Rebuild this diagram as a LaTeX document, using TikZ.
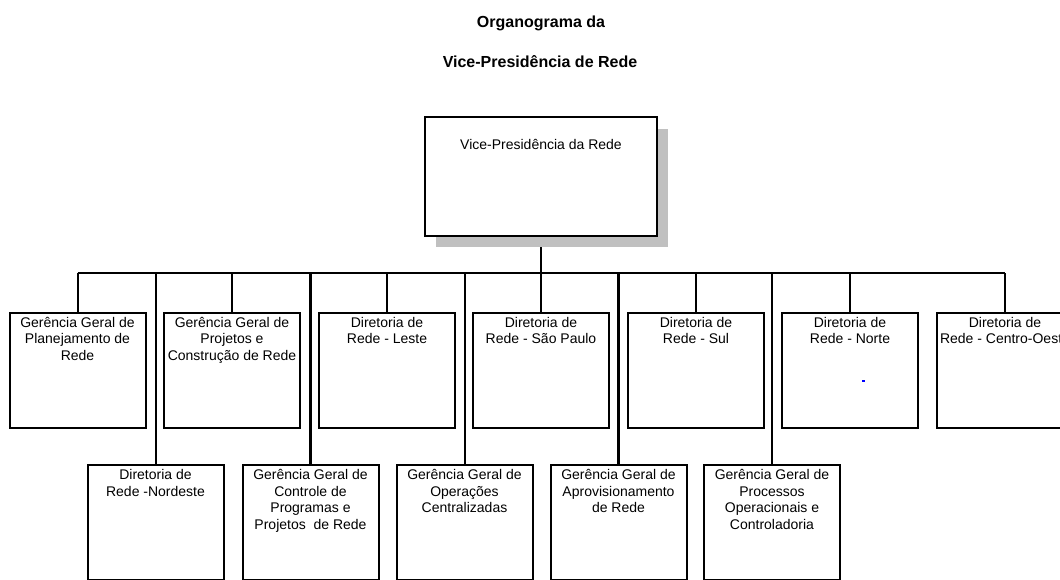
\documentclass[tikz,border=0pt]{standalone}
\usepackage{fontspec}
\setmainfont{Liberation Sans}
\definecolor{shadowgray}{RGB}{192,192,192}
\pgfdeclarelayer{bg}
\pgfsetlayers{bg,main}
\newcommand\topline{\rule{0pt}{14.5pt}}
\begin{document}
\begin{tikzpicture}[x=1pt,y=-1pt,
  box/.style={draw=black,line width=2pt,fill=white,minimum width=136pt,
    minimum height=115pt,inner sep=0pt,outer sep=0pt},
  lbl/.style={anchor=north,inner sep=0pt,align=center,
    font=\fontsize{14}{16.6}\selectfont},
  heading/.style={anchor=base,inner sep=0pt,font=\bfseries\fontsize{16}{19}\selectfont},
  wire/.style={line width=2pt},
  heavy/.style={line width=2.6pt}]
\useasboundingbox (0,0) rectangle (1060,579);
\clip (0,0) rectangle (1060,579);

% heading
\node[heading] (t1) at (541,27) {Organograma da};
\node[heading] (t2) at (540,67) {Vice-Presidência de Rede};

% top box with its drop shadow
\node[fill=shadowgray,minimum width=232pt,minimum height=118pt,inner sep=0pt,outer sep=0pt]
  (vpshadow) at (552,187.5) {};
\node[box,minimum width=232pt,minimum height=119pt] (vp) at (541,176.5) {};
\node[anchor=base,inner sep=0pt,font=\fontsize{14}{16.6}\selectfont] (vpt) at (541,149)
  {Vice-Presidência da Rede};

% first row
\node[box] (g1) at (77.5,370) {};
\node[box] (g2) at (232,370) {};
\node[box] (g3) at (387,370) {};
\node[box] (g4) at (541,370) {};
\node[box] (g5) at (696,370) {};
\node[box] (g6) at (850,370) {};
\node[box] (g7) at (1005,370) {};

\node[lbl] (g1t) at (g1.north) {\topline Gerência Geral de\\Planejamento de\\Rede};
\node[lbl] (g2t) at (g2.north) {\topline Gerência Geral de\\Projetos e\\Construção de Rede};
\node[lbl] (g3t) at (g3.north) {\topline Diretoria de\\Rede - Leste};
\node[lbl] (g4t) at (g4.north) {\topline Diretoria de\\Rede - São Paulo};
\node[lbl] (g5t) at (g5.north) {\topline Diretoria de\\Rede - Sul};
\node[lbl] (g6t) at (g6.north) {\topline Diretoria de\\Rede - Norte};
\node[lbl] (g7t) at (g7.north) {\topline Diretoria de\\Rede - Centro-Oeste};

% second row
\node[box] (h1) at (155.5,522.5) {};
\node[box] (h2) at (310.5,522.5) {};
\node[box] (h3) at (464.5,522.5) {};
\node[box] (h4) at (618.5,522.5) {};
\node[box] (h5) at (772,522.5) {};

\node[lbl] (h1t) at (h1.north) {\topline Diretoria de\\Rede -Nordeste};
\node[lbl] (h2t) at (h2.north) {\topline Gerência Geral de\\Controle de\\Programas e\\Projetos\ \ de Rede};
\node[lbl] (h3t) at (h3.north) {\topline Gerência Geral de\\Operações\\Centralizadas};
\node[lbl] (h4t) at (h4.north) {\topline Gerência Geral de\\Aprovisionamento\\de Rede};
\node[lbl] (h5t) at (h5.north) {\topline Gerência Geral de\\Processos\\Operacionais e\\Controladoria};

% small blue mark
\fill[blue] (861.5,380) rectangle (864.5,382);

% connectors
\coordinate (busL) at (77.5,273);
\coordinate (busR) at (1005,273);
\begin{pgfonlayer}{bg}
  \draw[wire] (vp.south) -- (vp.south |- busL);
  \draw[wire] (busL) -- (busR);
  \foreach \n in {g1,g2,g3,g4,g5,g6,g7}
    \draw[wire] (\n.north |- busL) -- (\n.north);
  \foreach \n in {h1,h3,h5}
    \draw[wire] (\n.north |- busL) -- (\n.north);
  \foreach \n in {h2,h4}
    \draw[heavy] (\n.north |- busL) -- (\n.north);
\end{pgfonlayer}
\end{tikzpicture}
\end{document}
